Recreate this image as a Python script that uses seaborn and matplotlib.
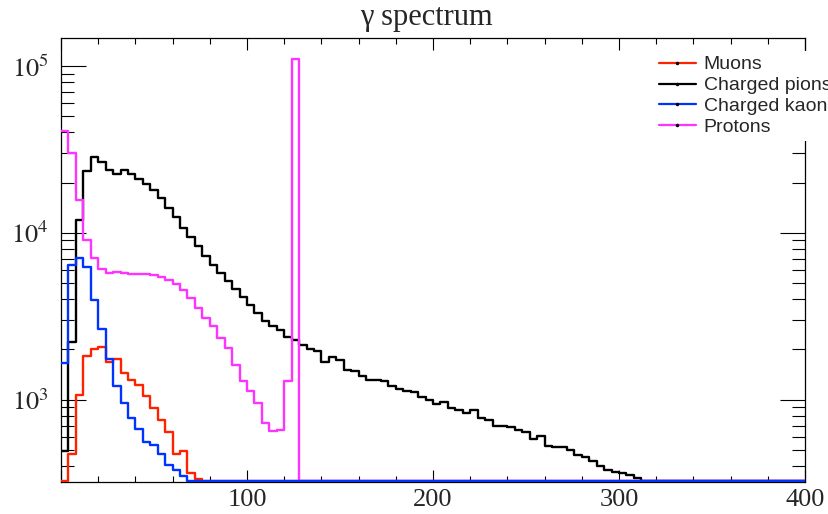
import numpy as np
import pandas as pd
import seaborn as sns
import matplotlib
matplotlib.use("Agg")
import matplotlib.pyplot as plt
from matplotlib.lines import Line2D
from matplotlib.ticker import MultipleLocator, LogLocator, NullFormatter

# histogram: 100 bins of width 4 from 0 to 400, bin contents
bin_edges = np.linspace(0, 400, 101)

muons = [0, 475, 1060, 1820, 2010, 2070, 1690, 1750, 1440, 1320, 1230, 1050,
         892, 751, 637, 475, 490, 364, 335]
pions = [490, 2230, 12000, 23300, 28600, 26700, 23800, 22500, 23800, 22500,
         20900, 19600, 18100, 16200, 14100, 12400, 10700, 9470, 8280, 7270,
         6380, 5740, 5160, 4620, 4110, 3710, 3290, 2970, 2770, 2610,
         2380, 2290, 2130, 2010, 1950, 1680, 1800, 1740, 1510, 1480,
         1390, 1310, 1310, 1290, 1210, 1160, 1130, 1110, 1040, 1000,
         946, 973, 892, 871, 832, 862, 777, 751, 698, 698,
         685, 661, 637, 582, 609, 525, 518, 518, 502, 469,
         454, 428, 403, 381, 367, 361, 352, 340]
kaons = [1660, 6450, 7030, 6240, 3940, 2650, 1750, 1200, 955, 777, 667, 554,
         537, 475, 408, 378, 348]
protons = [41000, 30000, 15800, 9080, 7060, 6070, 5780, 5860, 5740, 5680,
           5670, 5670, 5610, 5470, 5180, 4950, 4520, 4070, 3540, 3080,
           2750, 2340, 2040, 1620, 1290, 1120, 955, 725, 645, 661,
           1290, 110000]

labels = ["Muons", "Charged pions", "Charged kaons", "Protons"]
colors = ["#ff2200", "#000000", "#0033ff", "#ff33ff"]
series = [muons, pions, kaons, protons]
draw_order = [0, 1, 3, 2]  # kaons last, so their empty bins sit on top along the bottom

y_min, y_max = 321, 1.47e5

sns.set_style("ticks")
plt.rcParams["font.family"] = ["Liberation Serif", "DejaVu Serif"]
plt.rcParams["mathtext.fontset"] = "stix"

nbins = len(bin_edges) - 1
centers = (bin_edges[:-1] + bin_edges[1:]) / 2


def full(v):
    # empty bins are drawn on the bottom of the frame, like ROOT does on a log axis
    arr = np.array(list(v) + [0] * (nbins - len(v)), dtype=float)
    return np.clip(arr, y_min * 1.017, None)


fig = plt.figure(figsize=(8.29, 5.14), dpi=100)
ax = fig.add_axes([61 / 829, 1 - 482 / 514, (805 - 61) / 829, (482 - 38) / 514])

for i in draw_order:
    df = pd.DataFrame({"energy": centers, "count": full(series[i])})
    sns.histplot(data=df, x="energy", weights="count", bins=list(bin_edges),
                 element="step", fill=False, color=colors[i], linewidth=1.7,
                 ax=ax)

# histogram lines above the frame, so the empty bins hide the bottom spine
for ln in ax.lines:
    ln.set_zorder(3)

ax.set_yscale("log")
ax.set_xlim(0, 400)
ax.set_ylim(y_min, y_max)
ax.set_xlabel("")
ax.set_ylabel("")

ax.set_xticks([0, 100, 200, 300, 400], labels=["", "100", "200", "300", "400"])
ax.xaxis.set_minor_locator(MultipleLocator(20))
ax.set_yticks([1e3, 1e4, 1e5], labels=[r"$10^{3}$", r"$10^{4}$", r"$10^{5}$"])
ax.yaxis.set_minor_locator(LogLocator(base=10, subs=np.arange(2, 10), numticks=20))
ax.yaxis.set_minor_formatter(NullFormatter())

ax.tick_params(which="both", direction="in", top=True, right=True, width=0.8, color="black")
ax.tick_params(axis="x", which="major", length=8.5, labelsize=19, pad=5)
ax.tick_params(axis="x", which="minor", length=4.5)
ax.tick_params(axis="y", which="major", length=18, labelsize=19, pad=9)
ax.tick_params(axis="y", which="minor", length=9.5)
for sp in ax.spines.values():
    sp.set_linewidth(0.9)
    sp.set_color("black")

fig.text(426 / 829, 1 - 18 / 514, "γ spectrum", ha="center", va="center", fontsize=22)

handles = [Line2D([0], [0], color=c, lw=1.6, marker=".", markersize=3,
                  markerfacecolor="k", markeredgecolor="k") for c in colors]
leg = fig.legend(handles, labels, loc="upper left",
                 bbox_to_anchor=(654 / 829, 1 - 51 / 514),
                 prop=dict(family="Liberation Sans", size=14),
                 handlelength=1.9, handletextpad=0.4, labelspacing=0.17,
                 borderpad=0.25, borderaxespad=0, frameon=True, fancybox=False,
                 framealpha=1)
leg.get_frame().set_facecolor("white")
leg.get_frame().set_edgecolor("none")

fig.savefig("out.png", dpi=100)
